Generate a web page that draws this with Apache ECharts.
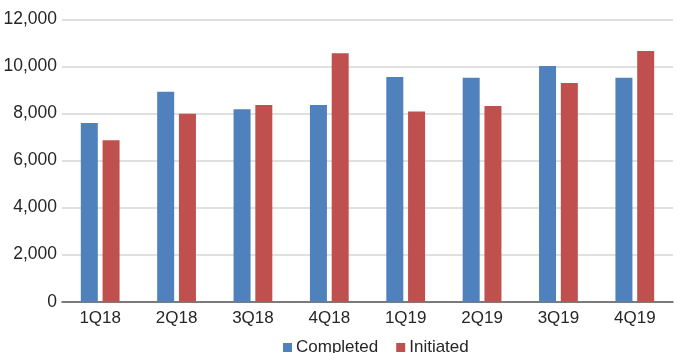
<!DOCTYPE html>
<html>
<head>
<meta charset="utf-8">
<script src="https://cdn.jsdelivr.net/npm/echarts@6/dist/echarts.min.js"></script>
<style>
  html, body { margin: 0; padding: 0; background: #fff; }
  #chart { width: 677px; height: 353px; }
</style>
</head>
<body>
<div id="chart"></div>
<script>
// Quarterly counts, 2018-2019
const quarters = ['1Q18', '2Q18', '3Q18', '4Q18', '1Q19', '2Q19', '3Q19', '4Q19'];
const completed = [7600, 8930, 8180, 8360, 9550, 9520, 10020, 9520];
const initiated = [6870, 7990, 8360, 10570, 8090, 8320, 9300, 10660];

const FONT = "'Liberation Sans', Arial, sans-serif";
const TEXT = '#262626';

const chart = echarts.init(document.getElementById('chart'), null, { renderer: 'canvas' });
chart.setOption({
  animation: false,
  backgroundColor: '#fff',
  grid: { left: 62, right: 4, top: 19.5, bottom: 51.3, containLabel: false },
  legend: {
    data: ['Completed', 'Initiated'],
    bottom: -8,
    left: 278,
    icon: 'rect',
    itemWidth: 9,
    itemHeight: 9,
    itemGap: 18,
    textStyle: { fontFamily: FONT, fontSize: 17, color: TEXT, padding: [0, 0, 0, -1] }
  },
  xAxis: {
    type: 'category',
    data: quarters,
    axisLine: { lineStyle: { color: '#595959', width: 1.5 } },
    axisTick: { show: false },
    axisLabel: { fontFamily: FONT, fontSize: 17, color: TEXT, margin: 8 }
  },
  yAxis: {
    type: 'value',
    min: 0,
    max: 12000,
    interval: 2000,
    axisLine: { show: false },
    axisTick: { show: false },
    axisLabel: {
      fontFamily: FONT, fontSize: 17.5, color: TEXT, margin: 5,
      formatter: v => v.toLocaleString('en-US')
    },
    splitLine: { lineStyle: { color: '#d6d6d6', width: 1.5 } }
  },
  series: [
    {
      name: 'Completed',
      type: 'bar',
      data: completed,
      barWidth: 17,
      barGap: '28%',
      itemStyle: { color: '#4F81BD' }
    },
    {
      name: 'Initiated',
      type: 'bar',
      data: initiated,
      barWidth: 17,
      itemStyle: { color: '#C0504D' }
    }
  ]
});
</script>
</body>
</html>
